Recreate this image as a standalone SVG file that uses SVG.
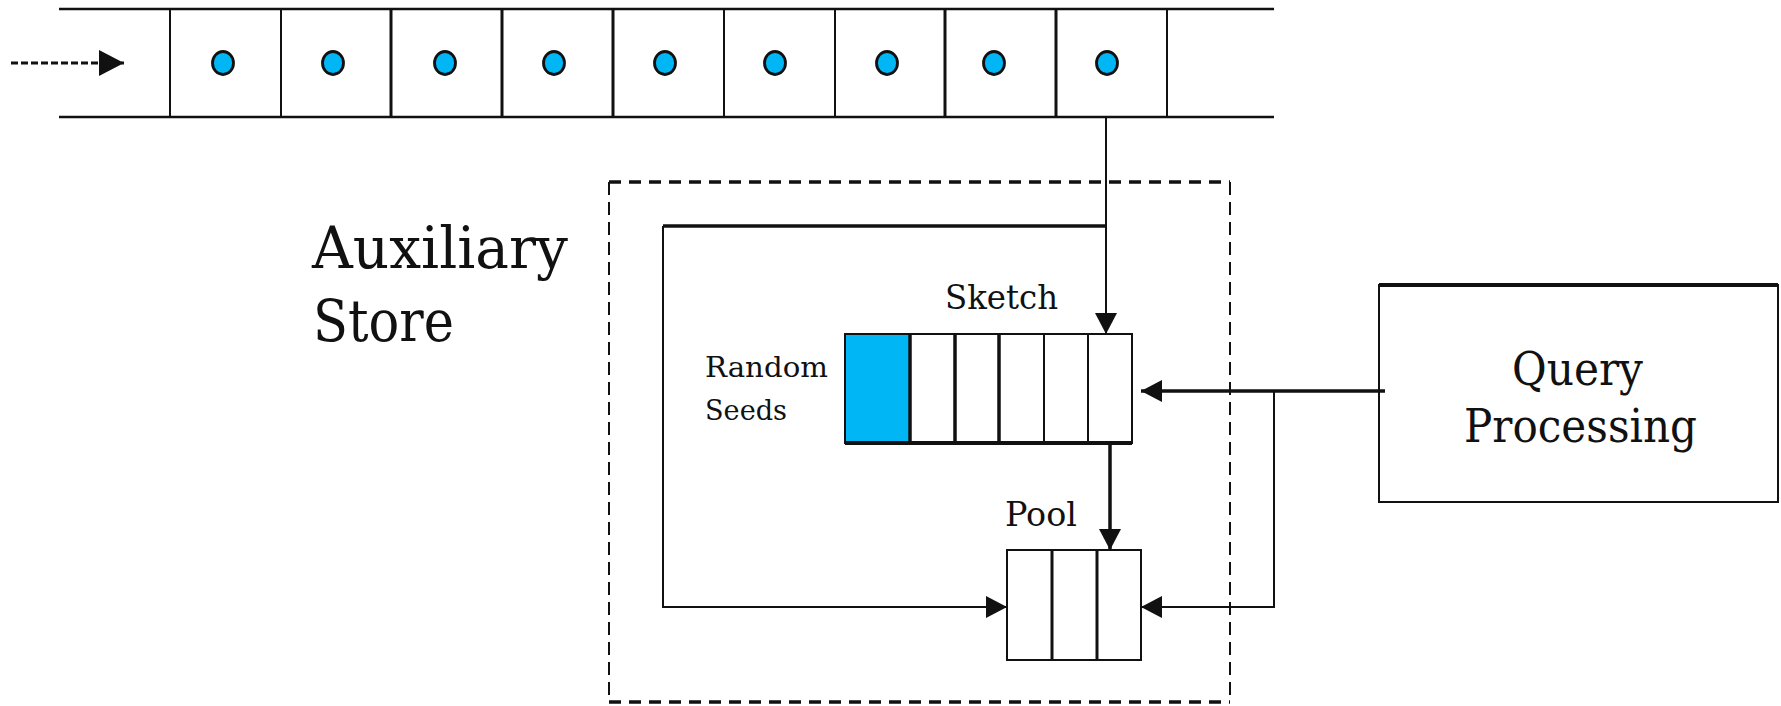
<svg xmlns="http://www.w3.org/2000/svg" width="1781" height="706" viewBox="0 0 1781 706">
  <style>
    .ln { stroke: #111; fill: none; }
    .thin { stroke-width: 2; }
    .thick { stroke-width: 3.5; }
    .dot { fill: #00B6F4; stroke: #111; stroke-width: 2.8; }
    .cell { fill: #fff; stroke: #111; stroke-width: 2; }
    .blue { fill: #00B6F4; }
    .txt { font-family: "DejaVu Serif", "Liberation Serif", serif; fill: #111; }
    .dash-h { stroke: #111; stroke-width: 3.5; stroke-dasharray: 12 8; fill: none; }
    .dash-v { stroke: #111; stroke-width: 2; stroke-dasharray: 13 7; fill: none; }
  </style>
  <defs>
    <marker id="arr" markerUnits="userSpaceOnUse" markerWidth="22" markerHeight="22" refX="21" refY="11" orient="auto" viewBox="0 0 22 22">
      <path d="M0,0 L21,11 L0,22 Z" fill="#111"/>
    </marker>
    <marker id="arrBig" markerUnits="userSpaceOnUse" markerWidth="26" markerHeight="26" refX="25" refY="13" orient="auto" viewBox="0 0 26 26">
      <path d="M0,0 L25,13 L0,26 Z" fill="#111"/>
    </marker>
  </defs>
  <rect width="1781" height="706" fill="#fff"/>

  <g id="stream">
    <line class="ln" stroke-width="2.5" x1="59" y1="9" x2="1274" y2="9"/>
    <line class="ln" stroke-width="2.5" x1="59" y1="117" x2="1274" y2="117"/>
    <line class="ln thin" x1="170" y1="9" x2="170" y2="117"/>
    <line class="ln thin" x1="281" y1="9" x2="281" y2="117"/>
    <line class="ln" stroke-width="3" x1="391" y1="9" x2="391" y2="117"/>
    <line class="ln" stroke-width="3" x1="502" y1="9" x2="502" y2="117"/>
    <line class="ln" stroke-width="3" x1="613" y1="9" x2="613" y2="117"/>
    <line class="ln thin" x1="724" y1="9" x2="724" y2="117"/>
    <line class="ln thin" x1="835" y1="9" x2="835" y2="117"/>
    <line class="ln" stroke-width="3" x1="945" y1="9" x2="945" y2="117"/>
    <line class="ln" stroke-width="3" x1="1056" y1="9" x2="1056" y2="117"/>
    <line class="ln thin" x1="1167" y1="9" x2="1167" y2="117"/>
    <ellipse class="dot" cx="223" cy="63" rx="10.5" ry="11.5"/>
    <ellipse class="dot" cx="333" cy="63" rx="10.5" ry="11.5"/>
    <ellipse class="dot" cx="445" cy="63" rx="10.5" ry="11.5"/>
    <ellipse class="dot" cx="554" cy="63" rx="10.5" ry="11.5"/>
    <ellipse class="dot" cx="665" cy="63" rx="10.5" ry="11.5"/>
    <ellipse class="dot" cx="775" cy="63" rx="10.5" ry="11.5"/>
    <ellipse class="dot" cx="887" cy="63" rx="10.5" ry="11.5"/>
    <ellipse class="dot" cx="994" cy="63" rx="10.5" ry="11.5"/>
    <ellipse class="dot" cx="1107" cy="63" rx="10.5" ry="11.5"/>
  </g>

  <g id="auxiliary-store">
    <line class="dash-h" x1="609" y1="182" x2="1230" y2="182"/>
    <line class="dash-h" x1="609" y1="702" x2="1230" y2="702"/>
    <line class="dash-v" x1="609" y1="182" x2="609" y2="702"/>
    <line class="dash-v" x1="1230" y1="182" x2="1230" y2="702"/>
    <text class="txt" x="312" y="268" font-size="57" textLength="256" lengthAdjust="spacingAndGlyphs">Auxiliary</text>
    <text class="txt" x="313" y="341" font-size="57" textLength="141" lengthAdjust="spacingAndGlyphs">Store</text>
  </g>

  <g id="sketch">
    <rect class="cell" x="845" y="334" width="287" height="109"/>
    <rect class="blue" x="846" y="335" width="64" height="107"/>
    <line class="ln thick" x1="910" y1="334" x2="910" y2="443"/>
    <line class="ln thick" x1="955" y1="334" x2="955" y2="443"/>
    <line class="ln thick" x1="999" y1="334" x2="999" y2="443"/>
    <line class="ln thin" x1="1044" y1="334" x2="1044" y2="443"/>
    <line class="ln thin" x1="1088" y1="334" x2="1088" y2="443"/>
    <line class="ln" stroke-width="4" x1="845" y1="443" x2="1132" y2="443"/>
    <text class="txt" x="945" y="309" font-size="33" textLength="113" lengthAdjust="spacingAndGlyphs">Sketch</text>
    <text class="txt" x="705" y="377" font-size="28" textLength="123" lengthAdjust="spacingAndGlyphs">Random</text>
    <text class="txt" x="705" y="420" font-size="28" textLength="82" lengthAdjust="spacingAndGlyphs">Seeds</text>
  </g>

  <g id="pool">
    <rect class="cell" x="1007" y="550" width="134" height="110"/>
    <line class="ln" stroke-width="3" x1="1052" y1="550" x2="1052" y2="660"/>
    <line class="ln" stroke-width="3" x1="1097" y1="550" x2="1097" y2="660"/>
    <text class="txt" x="1005" y="526" font-size="33" textLength="72" lengthAdjust="spacingAndGlyphs">Pool</text>
  </g>

  <g id="query-processing">
    <rect class="cell" x="1379" y="285" width="399" height="217"/>
    <line class="ln" stroke-width="4" x1="1379" y1="285" x2="1778" y2="285"/>
    <text class="txt" x="1512" y="385" font-size="47" textLength="131" lengthAdjust="spacingAndGlyphs">Query</text>
    <text class="txt" x="1464" y="442" font-size="47" textLength="233" lengthAdjust="spacingAndGlyphs">Processing</text>
  </g>

  <g id="connectors">
    <line class="ln" stroke-width="3" stroke-dasharray="7 3" x1="11" y1="63" x2="124" y2="63" marker-end="url(#arrBig)"/>
    <path class="ln thin" d="M1106,117 V334" marker-end="url(#arr)"/>
    <line class="ln" stroke-width="3.5" x1="663" y1="226" x2="1106" y2="226"/>
    <path class="ln thin" d="M663,226 V607 H1007" marker-end="url(#arr)"/>
    <path class="ln thick" d="M1110,443 V550" marker-end="url(#arr)"/>
    <path class="ln thick" d="M1385,391 H1141" marker-end="url(#arr)"/>
    <path class="ln thin" d="M1274,391 V607 H1141" marker-end="url(#arr)"/>
  </g>
</svg>
